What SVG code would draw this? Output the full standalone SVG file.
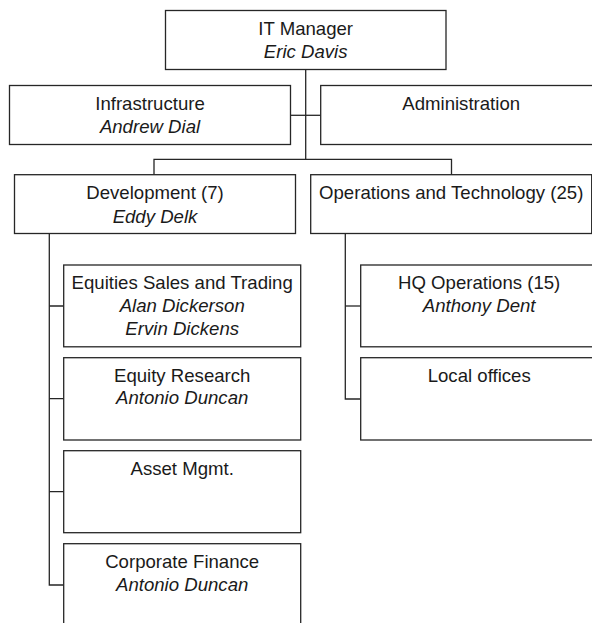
<svg xmlns="http://www.w3.org/2000/svg" width="592" height="623" viewBox="0 0 592 623">
  <style>
    .box { fill: #ffffff; stroke: #262626; stroke-width: 1.3; }
    .wire { fill: none; stroke: #262626; stroke-width: 1.3; }
    text { font-family: "Liberation Sans", Arial, sans-serif; font-size: 18.6px; fill: #1a1a1a; text-anchor: middle; }
    .name { font-style: italic; }
  </style>
  <rect width="592" height="623" fill="#ffffff"/>

  <!-- connectors -->
  <g id="connectors" class="wire">
    <path d="M305.7,69.5 V159.3"/>
    <path d="M290.3,115.3 H320.7"/>
    <path d="M154,174.7 V159.3 H451.5 V174.7"/>
    <path d="M49.3,233.5 V585 H63.7"/>
    <path d="M49.3,306 H63.7 M49.3,398.7 H63.7 M49.3,491.7 H63.7"/>
    <path d="M345.3,233.5 V399 H360.7"/>
    <path d="M345.3,306 H360.7"/>
  </g>

  <g id="it-manager">
    <rect class="box" x="165.5" y="10.5" width="280.5" height="59"/>
    <text x="305.7" y="35">IT Manager</text>
    <text class="name" x="305.7" y="57.5">Eric Davis</text>
  </g>

  <g id="infrastructure">
    <rect class="box" x="9.5" y="85.5" width="281" height="59"/>
    <text x="150" y="110">Infrastructure</text>
    <text class="name" x="150" y="132.7">Andrew Dial</text>
  </g>

  <g id="administration">
    <rect class="box" x="320.7" y="85.5" width="281" height="59"/>
    <text x="461.2" y="110">Administration</text>
  </g>

  <g id="development">
    <rect class="box" x="14.5" y="174.7" width="281" height="58.8"/>
    <text x="155" y="198.5">Development (7)</text>
    <text class="name" x="155" y="222.5">Eddy Delk</text>
  </g>

  <g id="operations">
    <rect class="box" x="310.7" y="174.7" width="281" height="58.8"/>
    <text x="451.2" y="198.5">Operations and Technology (25)</text>
  </g>

  <g id="equities">
    <rect class="box" x="63.7" y="265" width="237" height="81.8"/>
    <text x="182.2" y="289">Equities Sales and Trading</text>
    <text class="name" x="182.2" y="311.8">Alan Dickerson</text>
    <text class="name" x="182.2" y="335">Ervin Dickens</text>
  </g>

  <g id="equity-research">
    <rect class="box" x="63.7" y="357.7" width="237" height="82.3"/>
    <text x="182.2" y="381.7">Equity Research</text>
    <text class="name" x="182.2" y="404.3">Antonio Duncan</text>
  </g>

  <g id="asset-mgmt">
    <rect class="box" x="63.7" y="450.7" width="237" height="82"/>
    <text x="182.2" y="474.5">Asset Mgmt.</text>
  </g>

  <g id="corporate-finance">
    <rect class="box" x="63.7" y="543.7" width="237" height="82"/>
    <text x="182.2" y="567.7">Corporate Finance</text>
    <text class="name" x="182.2" y="591">Antonio Duncan</text>
  </g>

  <g id="hq-operations">
    <rect class="box" x="360.7" y="265" width="237" height="81.8"/>
    <text x="479.2" y="289">HQ Operations (15)</text>
    <text class="name" x="479.2" y="311.8">Anthony Dent</text>
  </g>

  <g id="local-offices">
    <rect class="box" x="360.7" y="357.7" width="237" height="82.3"/>
    <text x="479.2" y="381.7">Local offices</text>
  </g>
</svg>
